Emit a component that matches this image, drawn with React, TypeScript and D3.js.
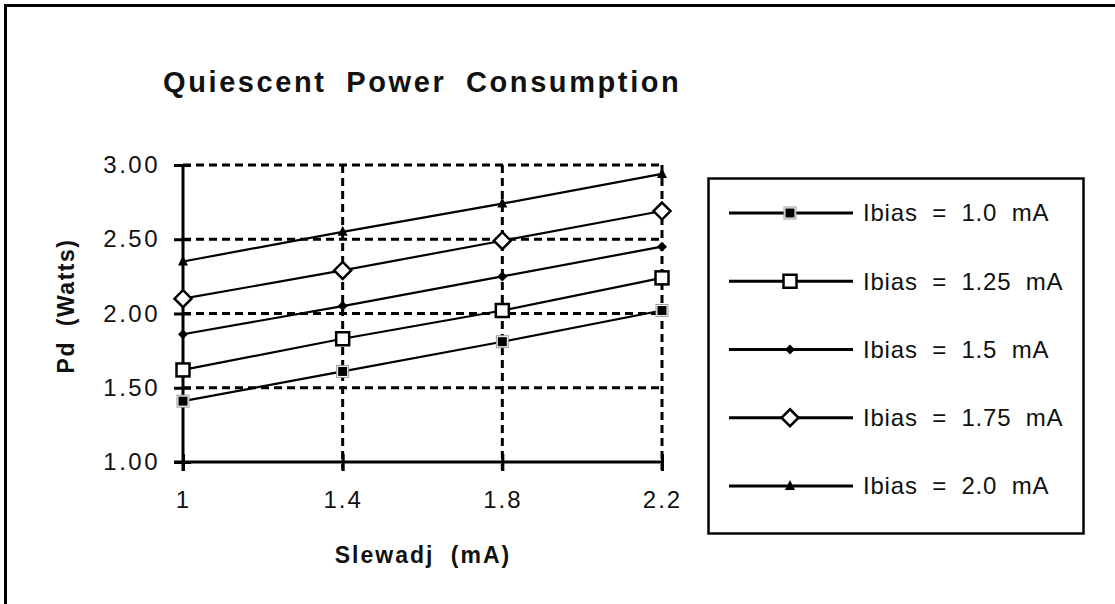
import React, {useEffect, useRef} from 'react';
import * as d3 from 'd3';

// slewadj values on the x axis (mA)
const slewadj = [1, 1.4, 1.8, 2.2];
// Pd (Watts) per bias current
const ibias10 = [1.41, 1.61, 1.81, 2.02];
const ibias125 = [1.62, 1.83, 2.02, 2.24];
const ibias15 = [1.86, 2.05, 2.25, 2.45];
const ibias175 = [2.1, 2.29, 2.49, 2.69];
const ibias20 = [2.35, 2.55, 2.74, 2.94];
const seriesNames = [
  'Ibias = 1.0 mA',
  'Ibias = 1.25 mA',
  'Ibias = 1.5 mA',
  'Ibias = 1.75 mA',
  'Ibias = 2.0 mA',
];
const yTicks = [1, 1.5, 2, 2.5, 3];

const FONT = "'Liberation Sans', Arial, sans-serif";

const App: React.FC = () => {
  const svgRef = useRef<SVGSVGElement>(null);

  useEffect(() => {
    const svg = d3.select(svgRef.current);
    svg.selectAll('*').remove();

    const series = [
      {name: seriesNames[0], values: ibias10, marker: 'sqFilled'},
      {name: seriesNames[1], values: ibias125, marker: 'sqOpen'},
      {name: seriesNames[2], values: ibias15, marker: 'dmSmall'},
      {name: seriesNames[3], values: ibias175, marker: 'dmOpen'},
      {name: seriesNames[4], values: ibias20, marker: 'tri'},
    ];

    // outer frame (runs past the right / bottom edge)
    svg
      .append('rect')
      .attr('x', 5.5)
      .attr('y', 5.5)
      .attr('width', 1140)
      .attr('height', 640)
      .attr('fill', 'white')
      .attr('stroke', 'black')
      .attr('stroke-width', 3);

    const x = d3.scaleLinear().domain([1, 2.2]).range([183, 662]);
    const y = d3.scaleLinear().domain([1, 3]).range([462, 165]);

    // title
    svg
      .append('text')
      .attr('x', 163)
      .attr('y', 92)
      .attr('font-family', FONT)
      .attr('font-weight', 'bold')
      .attr('font-size', 29)
      .attr('letter-spacing', 2.6)
      .attr('word-spacing', 9)
      .attr('fill', '#111')
      .text('Quiescent Power Consumption');

    // dashed grid
    const grid = svg
      .append('g')
      .attr('stroke', 'black')
      .attr('stroke-width', 3)
      .attr('stroke-dasharray', '8,5');
    grid
      .selectAll('.hgrid')
      .data(yTicks.filter((d) => d > 1))
      .enter()
      .append('line')
      .attr('x1', x(1))
      .attr('x2', x(2.2))
      .attr('y1', (d) => y(d))
      .attr('y2', (d) => y(d));
    grid
      .selectAll('.vgrid')
      .data(slewadj.slice(1))
      .enter()
      .append('line')
      .attr('x1', (d) => x(d))
      .attr('x2', (d) => x(d))
      .attr('y1', y(3))
      .attr('y2', y(1) + 8);

    // y axis
    const yAxis = svg
      .append('g')
      .attr('transform', 'translate(' + x(1) + ',0)')
      .call(
        d3
          .axisLeft(y)
          .tickValues(yTicks)
          .tickFormat(d3.format('.2f'))
          .tickSizeOuter(0),
      );
    yAxis.select('.domain').remove();
    yAxis
      .selectAll('.tick line')
      .attr('x1', 8)
      .attr('x2', -9)
      .attr('stroke-width', 3);
    yAxis
      .selectAll('.tick text')
      .attr('x', -23)
      .attr('font-family', FONT)
      .attr('font-size', 24)
      .attr('letter-spacing', 2.5)
      .attr('fill', '#111');
    yAxis
      .append('line')
      .attr('x1', 0)
      .attr('x2', 0)
      .attr('y1', y(3))
      .attr('y2', y(1) + 9)
      .attr('stroke', 'black')
      .attr('stroke-width', 3);

    // x axis
    const xAxis = svg
      .append('g')
      .attr('transform', 'translate(0,' + y(1) + ')')
      .call(
        d3
          .axisBottom(x)
          .tickValues(slewadj)
          .tickFormat((d: any) => String(d))
          .tickSizeOuter(0),
      );
    xAxis.select('.domain').remove();
    xAxis
      .selectAll('.tick line')
      .attr('y1', -8)
      .attr('y2', 9)
      .attr('stroke-width', 3);
    xAxis
      .selectAll('.tick text')
      .attr('y', 46)
      .attr('dy', '0')
      .attr('font-family', FONT)
      .attr('font-size', 24)
      .attr('letter-spacing', 2)
      .attr('fill', '#111');
    xAxis
      .append('line')
      .attr('x1', x(1) - 9)
      .attr('x2', x(2.2))
      .attr('y1', 0)
      .attr('y2', 0)
      .attr('stroke', 'black')
      .attr('stroke-width', 3);

    // axis titles
    svg
      .append('text')
      .attr('x', 423)
      .attr('y', 563)
      .attr('text-anchor', 'middle')
      .attr('font-family', FONT)
      .attr('font-weight', 'bold')
      .attr('font-size', 23)
      .attr('letter-spacing', 2)
      .attr('word-spacing', 8)
      .attr('fill', '#111')
      .text('Slewadj (mA)');
    svg
      .append('text')
      .attr('transform', 'translate(74,306) rotate(-90)')
      .attr('text-anchor', 'middle')
      .attr('font-family', FONT)
      .attr('font-weight', 'bold')
      .attr('font-size', 23)
      .attr('letter-spacing', 1.5)
      .attr('word-spacing', 7)
      .attr('fill', '#111')
      .text('Pd (Watts)');

    function drawMarker(g: any, type: string, cx: number, cy: number) {
      if (type === 'sqFilled') {
        g.append('rect')
          .attr('x', cx - 6)
          .attr('y', cy - 6)
          .attr('width', 12)
          .attr('height', 12)
          .attr('fill', 'white')
          .attr('stroke', '#999')
          .attr('stroke-width', 1);
        g.append('rect')
          .attr('x', cx - 4.5)
          .attr('y', cy - 4.5)
          .attr('width', 9)
          .attr('height', 9)
          .attr('fill', 'black');
      } else if (type === 'sqOpen') {
        g.append('rect')
          .attr('x', cx - 6.5)
          .attr('y', cy - 6.5)
          .attr('width', 13)
          .attr('height', 13)
          .attr('fill', 'white')
          .attr('stroke', 'black')
          .attr('stroke-width', 2.5);
      } else if (type === 'dmSmall') {
        const r = 5;
        g.append('path')
          .attr('d', `M${cx},${cy - r}L${cx + r},${cy}L${cx},${cy + r}L${cx - r},${cy}Z`)
          .attr('fill', 'black');
      } else if (type === 'dmOpen') {
        const r = 8.5;
        g.append('path')
          .attr('d', `M${cx},${cy - r}L${cx + r},${cy}L${cx},${cy + r}L${cx - r},${cy}Z`)
          .attr('fill', 'white')
          .attr('stroke', 'black')
          .attr('stroke-width', 2.5);
      } else {
        g.append('path')
          .attr('d', `M${cx},${cy - 6}L${cx + 5},${cy + 4}L${cx - 5},${cy + 4}Z`)
          .attr('fill', 'black');
      }
    }

    // series lines and markers
    const line = d3
      .line<number>()
      .x((d, i) => x(slewadj[i]))
      .y((d) => y(d));
    series.forEach((s) => {
      svg
        .append('path')
        .attr('d', line(s.values))
        .attr('fill', 'none')
        .attr('stroke', 'black')
        .attr('stroke-width', 2.2);
    });
    series.forEach((s) => {
      const g = svg.append('g');
      s.values.forEach((v, i) => drawMarker(g, s.marker, x(slewadj[i]), y(v)));
    });

    // legend
    svg
      .append('rect')
      .attr('x', 708.5)
      .attr('y', 178.5)
      .attr('width', 375)
      .attr('height', 355)
      .attr('fill', 'white')
      .attr('stroke', 'black')
      .attr('stroke-width', 2.5);
    const ly = d3
      .scalePoint<string>()
      .domain(seriesNames)
      .range([213, 486]);
    series.forEach((s) => {
      const cy = ly(s.name) as number;
      const g = svg.append('g');
      g.append('line')
        .attr('x1', 729)
        .attr('x2', 853)
        .attr('y1', cy)
        .attr('y2', cy)
        .attr('stroke', 'black')
        .attr('stroke-width', 3);
      drawMarker(g, s.marker, 790, cy);
      g.append('text')
        .attr('x', 863)
        .attr('y', cy)
        .attr('dy', '0.35em')
        .attr('font-family', FONT)
        .attr('font-size', 24)
        .attr('letter-spacing', 0.8)
        .attr('word-spacing', 7)
        .attr('fill', '#111')
        .text(s.name);
    });
  }, []);

  return (
    <svg
      ref={svgRef}
      width={1115}
      height={604}
      style={{position: 'absolute', left: 0, top: 0, display: 'block'}}
    ></svg>
  );
};

export default App;
